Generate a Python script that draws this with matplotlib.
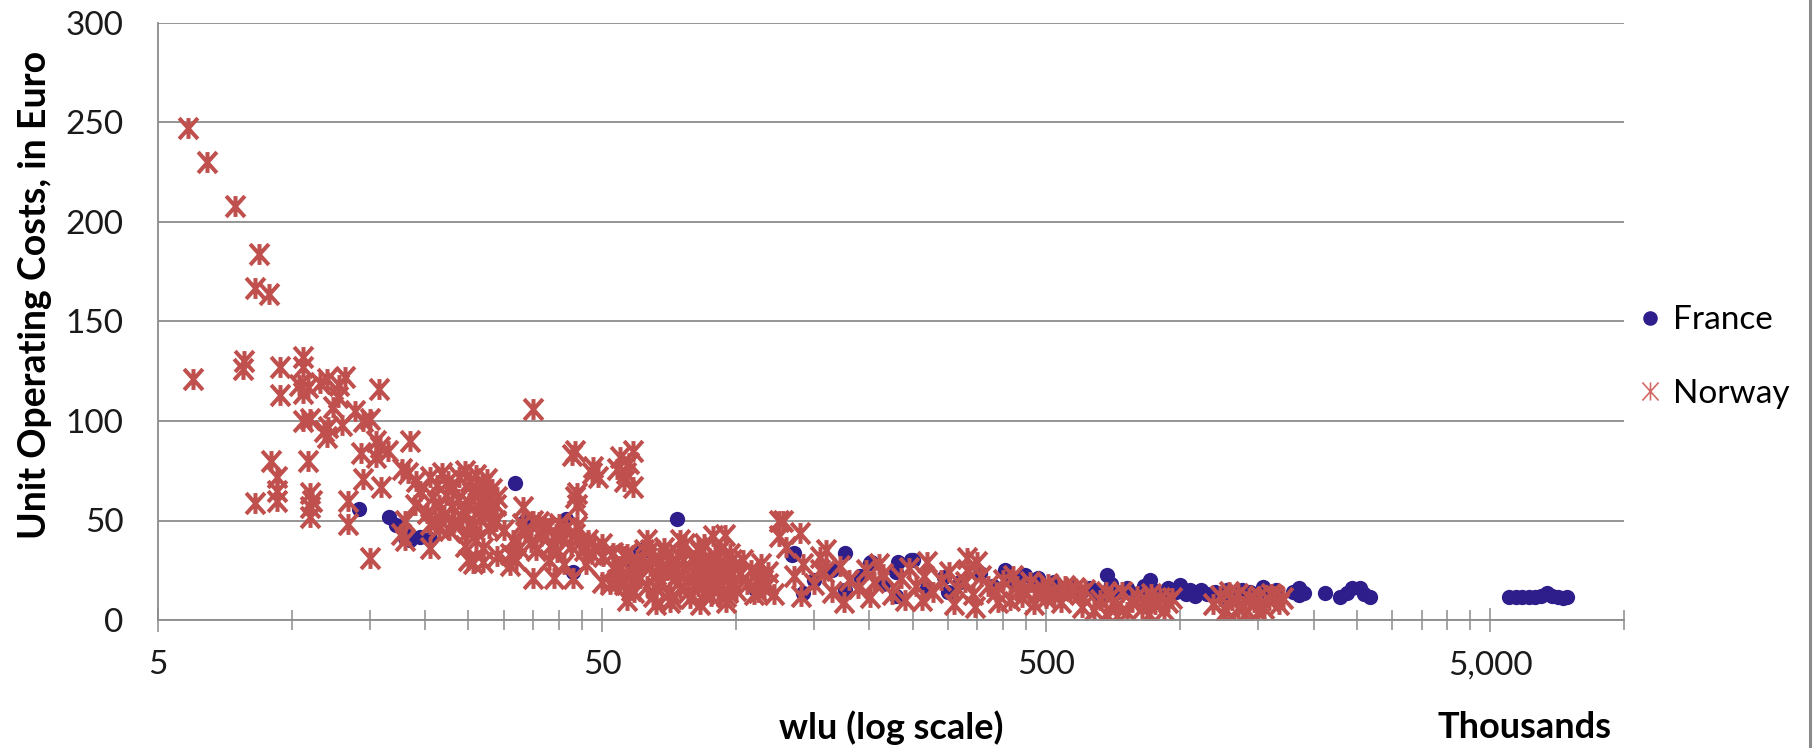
import matplotlib.pyplot as plt
import numpy as np
from matplotlib.path import Path
from matplotlib.lines import Line2D
from matplotlib.ticker import FixedLocator, FixedFormatter, NullFormatter

plt.rcParams["font.family"] = ["Lato", "DejaVu Sans"]

# wlu in thousands, unit operating cost in euro
norway_small = [
    (5.85, 247), (6.45, 230), (7.45, 208), (8.45, 184), (8.25, 167), (8.9, 164),
    (6.0, 121), (7.8, 130), (7.75, 126), (9.4, 127), (9.4, 113), (10.6, 132),
    (10.6, 127), (10.4, 118), (10.9, 117), (10.6, 114), (12.0, 121), (13.2, 122),
    (12.7, 112), (12.4, 107), (10.6, 100), (11.0, 101), (12.1, 97), (12.0, 92),
    (13.9, 105), (14.5, 100), (15.0, 101), (15.7, 116), (14.3, 84), (15.5, 90),
    (15.8, 87), (16.5, 85), (15.5, 82), (18.5, 90), (14.5, 71), (15.9, 67),
    (17.7, 76), (18.3, 74), (19.1, 70), (9.0, 80), (9.25, 72), (9.25, 65),
    (9.25, 60), (8.27, 59), (10.9, 80), (11.0, 64), (11.1, 60), (11.0, 57),
    (11.0, 52), (13.4, 60), (13.4, 48), (15.0, 31), (18.0, 50), (17.6, 43),
    (18.0, 40), (20.5, 48), (20.5, 36), (23.1, 48), (25.6, 28.5), (24.5, 37),
    (11.6, 119), (12.8, 118), (11.8, 95), (13.0, 98),
]
norway_mid = [
    (20.5, 72), (21.2, 68), (21.8, 74), (22.5, 70), (23.0, 66), (23.8, 72),
    (24.5, 75), (25.2, 70), (26.0, 73), (26.8, 68), (27.5, 71), (28.3, 66),
    (29.0, 62), (20.8, 62), (21.5, 58), (22.2, 63), (23.0, 57), (23.7, 61),
    (24.4, 55), (25.1, 59), (25.8, 64), (26.5, 56), (27.2, 60), (28.0, 55),
    (28.8, 58), (20.2, 54), (21.0, 50), (22.0, 53), (23.2, 49), (24.2, 52),
    (25.5, 47), (26.6, 51), (27.8, 46), (28.8, 50), (22.6, 45), (24.8, 44),
    (19.5, 65), (19.0, 58), (21.5, 46), (26.0, 40), (27.0, 36),
    (25.5, 64), (26.5, 60), (27.5, 55), (28.5, 50), (25.8, 48),
    (33.2, 57), (35.0, 50), (37.0, 47), (39.4, 43), (35.0, 106), (43.5, 85),
    (47.8, 77), (49.0, 72), (47.5, 74), (54.0, 76), (58.8, 85), (57.5, 79),
    (58.8, 67), (56.5, 74), (55.0, 82), (56.0, 70), (43.8, 64), (43.8, 58),
    (43.4, 62), (42.7, 83), (31.0, 27.5), (31.0, 33), (35.0, 21), (39.0, 21),
    (43.0, 21), (50.2, 32), (53.0, 33.5), (55.0, 20), (25.0, 30), (27.0, 29),
    (29.0, 32), (32.0, 30), (30.0, 45), (31.5, 40), (32.5, 36), (33.5, 44),
    (34.5, 39), (35.5, 35), (36.5, 42), (37.5, 46), (38.5, 38), (39.5, 34),
    (40.5, 41), (41.5, 46), (42.5, 37), (43.5, 43), (44.5, 39), (45.5, 35),
    (46.5, 40), (47.5, 33), (33.0, 48), (36.0, 49), (40.0, 48), (44.0, 47),
    (38.0, 30), (41.0, 28), (46.0, 28), (48.0, 36), (50.0, 38),
]
norway_dense = [
    (54, 20), (55, 27), (56, 18), (57, 33), (58, 24), (59, 14), (60, 30), (61, 21),
    (62, 35), (63, 17), (64, 27), (65, 12), (66, 23), (67, 31), (68, 19), (69, 36),
    (70, 25), (71, 14), (72, 29), (73, 21), (74, 33), (75, 16), (76, 26), (77, 38),
    (78, 20), (79, 11), (80, 30), (81, 23), (82, 17), (83, 34), (84, 27), (85, 13),
    (86, 22), (87, 31), (88, 18), (89, 42), (90, 26), (91, 15), (92, 35), (93, 21),
    (94, 28), (95, 12), (96, 24), (97, 33), (98, 19), (99, 27), (100, 15), (102, 23),
    (104, 30), (106, 18), (108, 25), (110, 13), (112, 21), (114, 28), (116, 16),
    (118, 24), (56, 32), (58, 15), (60, 22), (62, 28), (64, 35), (66, 16), (68, 26),
    (70, 33), (72, 11), (74, 23), (76, 30), (78, 14), (80, 24), (82, 36), (84, 20),
    (86, 28), (88, 12), (90, 32), (92, 18), (94, 24), (96, 14), (98, 30), (63, 40),
    (75, 40), (85, 38), (71, 9), (83, 8), (95, 9), (66, 8), (57, 10), (52, 18),
    (50, 19), (53, 26), (94.6, 42.7), (125, 50), (125, 42), (128, 50), (139.6, 43.6),
    (130, 36.8), (112, 14), (118, 18), (122, 13), (115, 20),
]
norway_large = [
    (155, 31.8), (155, 25), (331, 31), (331, 25), (201, 11.7), (262, 10),
    (346, 6.7), (441, 11.7), (602, 6.7), (135, 22), (142, 28), (150, 18),
    (158, 24), (165, 14), (172, 27), (180, 20), (188, 16), (196, 25), (205, 19),
    (215, 23), (225, 13), (235, 21), (245, 26), (255, 17), (265, 22), (278, 14),
    (290, 20), (302, 24), (315, 16), (328, 19), (342, 13), (356, 22), (370, 17),
    (385, 14), (400, 20), (415, 10), (430, 17), (445, 15), (460, 19), (475, 13),
    (490, 16), (505, 18), (520, 12), (535, 15), (550, 17), (565, 14), (580, 16),
    (595, 13), (610, 15), (140, 12), (160, 35), (175, 9), (210, 28), (240, 10),
    (270, 29), (310, 8), (350, 29), (390, 9), (420, 22), (470, 8), (500, 11),
    (540, 9),
    (640, 5), (660, 10), (680, 3), (700, 12), (720, 7), (740, 14), (760, 4),
    (780, 9), (800, 12), (820, 6), (840, 10), (860, 13), (880, 8), (900, 11),
    (920, 5), (940, 9), (960, 11), (680, 14), (720, 2), (850, 3),
    (1190, 8), (1230, 12), (1270, 5), (1310, 10), (1350, 13), (1390, 7),
    (1430, 11), (1470, 9), (1510, 12), (1550, 6), (1590, 10), (1630, 12),
    (1670, 8), (1710, 11), (1250, 3), (1400, 3), (1290, 14), (1500, 4),
    (1600, 13), (1350, 6),
]
france_pts = [
    (14.2, 56), (16.6, 51.6), (17.2, 47.7), (18.0, 41), (18.5, 40), (18.2, 43),
    (19.5, 41.5), (20.5, 40.5), (31.8, 68.7), (41.5, 50.6), (73.6, 50.6),
    (61.8, 34.8), (60.0, 28.8), (43.0, 24), (33.5, 50), (111, 15), (96, 13.5),
    (59, 28), (61, 35), (134, 32.7), (135, 33.5), (201, 28.6), (232, 29),
    (248, 30), (176, 33.8), (202, 29.3), (251, 30), (404, 25), (449, 22.6),
    (628, 15.9), (176, 15), (142, 13.5), (294, 21.8), (355, 23.4), (577, 16.8),
    (150, 20), (165, 25), (190, 22), (215, 18), (230, 24), (270, 16), (320, 19),
    (380, 17), (420, 20), (470, 18), (510, 17), (540, 15), (600, 14), (230, 12),
    (300, 14), (480, 21), (520, 19),
    (685, 22.6), (858, 20.1), (1002, 17.6), (1055, 15), (1118, 15), (1278, 15),
    (1380, 15), (1542, 16.8), (1850, 15.9), (1850, 12.6), (2125, 13.4),
    (2297, 11.7), (2440, 15.9), (2550, 15.9), (2685, 11.7), (2600, 13),
    (2380, 13.5), (1800, 14), (1900, 13.5), (640, 15), (660, 12), (700, 18),
    (720, 14), (760, 16), (800, 13), (830, 17), (870, 15), (900, 12), (940, 16),
    (980, 14), (1030, 13), (1080, 12), (1150, 13), (1200, 14), (1240, 12),
    (1320, 13), (1440, 14), (1480, 12), (1600, 14), (1650, 15),
    (5500, 11.6), (5700, 11.5), (5900, 11.8), (6100, 11.4), (6300, 11.7),
    (6500, 12), (6700, 13.5), (6900, 12), (7100, 11.5), (7300, 11.3), (7450, 11.6),
]

norway = np.array(norway_small + norway_mid + norway_dense + norway_large)
france = np.array(france_pts)

red = "#C0504D"
blue = "#2D1E8C"
grey = "#8C8C8C"

# excel style star: X with a vertical bar
star = Path(
    [(-0.9, -1), (0.9, 1), (-0.9, 1), (0.9, -1), (0, -1), (0, 1)],
    [Path.MOVETO, Path.LINETO, Path.MOVETO, Path.LINETO, Path.MOVETO, Path.LINETO],
)

fig = plt.figure(figsize=(18.13, 7.48), dpi=100)
ax = fig.add_axes([158 / 1813, 1 - 620 / 748, (1624 - 158) / 1813, (620 - 23) / 748])

ax.plot(france[:, 0], france[:, 1], "o", ms=11, mfc=blue, mec=blue, mew=0, ls="none")
ax.plot(norway[:, 0], norway[:, 1], marker=star, ms=15, mec=red, mew=2.9, ls="none")

ax.set_xscale("log")
ax.set_xlim(5, 10000)
ax.set_ylim(0, 300)

major = [5, 50, 500, 5000]
minor = [k * 5 * 10 ** n for n in range(4) for k in range(2, 10) if k * 5 * 10 ** n <= 10000]
ax.xaxis.set_major_locator(FixedLocator(major))
ax.xaxis.set_major_formatter(FixedFormatter(["5", "50", "500", "5,000"]))
ax.xaxis.set_minor_locator(FixedLocator(minor))
ax.xaxis.set_minor_formatter(NullFormatter())
ax.set_yticks(np.arange(0, 301, 50))

ax.tick_params(axis="x", which="major", direction="inout", length=17.5, width=1.1,
               color=grey, pad=13, labelsize=24, labelcolor="#1a1a1a")
ax.tick_params(axis="x", which="minor", direction="inout", length=14.5, width=1.1, color=grey)
ax.tick_params(axis="y", length=0, pad=25, labelsize=24, labelcolor="#1a1a1a")

ax.yaxis.grid(True, color=grey, lw=1.3)
ax.set_axisbelow(True)
for s in ["top", "right"]:
    ax.spines[s].set_visible(False)
for s in ["left", "bottom"]:
    ax.spines[s].set_color(grey)
    ax.spines[s].set_linewidth(1.3)

fig.text(35 / 1813, 1 - 295 / 748, "Unit Operating Costs, in Euro", rotation=90,
         ha="center", va="center", fontsize=27, fontweight="bold")
fig.text(891 / 1813, 1 - 728 / 748, "wlu (log scale)", ha="center", va="center",
         fontsize=26, fontweight="bold")
fig.text(1525 / 1813, 1 - 728 / 748, "Thousands", ha="center", va="center",
         fontsize=26, fontweight="bold")

handles = [
    Line2D([], [], marker="o", ls="none", ms=10.5, mfc=blue, mec=blue, mew=0),
    Line2D([], [], marker=star, ls="none", ms=13, mec="#D46A67", mew=1.2),
]
fig.legend(handles, ["France", "Norway"], loc="center left",
           bbox_to_anchor=(1638 / 1813, 1 - 357 / 748), frameon=False, fontsize=24,
           handlelength=0.7, handletextpad=0.35, borderpad=0, borderaxespad=0,
           labelspacing=1.3)

fig.add_artist(Line2D([1810 / 1813] * 2, [0, 1], color="#8a8a8a", lw=2.2,
                      transform=fig.transFigure))

fig.savefig("out.png", dpi=100)
